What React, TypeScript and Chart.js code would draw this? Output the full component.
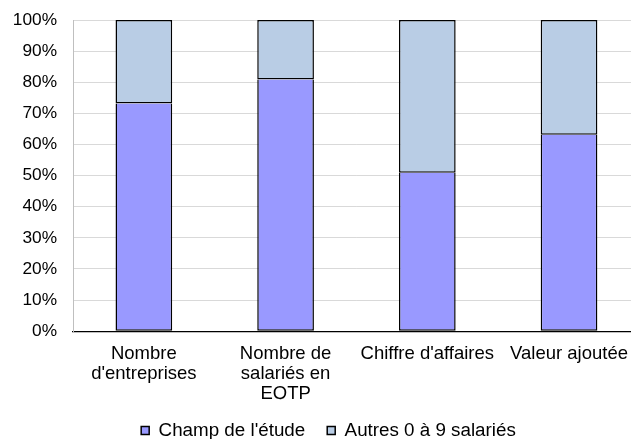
import React, { useEffect, useRef } from "react";
import { Chart, registerables } from "chart.js";

Chart.register(...registerables);

const categories: (string | string[])[] = [
  ["Nombre", "d'entreprises"],
  ["Nombre de", "salariés en", "EQTP"],
  "Chiffre d'affaires",
  "Valeur ajoutée",
];
const champEtude = [73.2, 80.9, 50.9, 63.1];
const autres = [26.8, 19.1, 49.1, 36.9];
const seriesNames = ["Champ de l'étude", "Autres 0 à 9 salariés"];
const yTicks = [0, 10, 20, 30, 40, 50, 60, 70, 80, 90, 100];

const FONT = "'Liberation Sans', Arial, sans-serif";
const W = 641;
const H = 450;

export default function App() {
  const ref = useRef<HTMLCanvasElement | null>(null);

  useEffect(() => {
    if (!ref.current) return;
    const legendShift = {
      id: "legendShift",
      afterLayout(chart: any) {
        if (chart.legend) {
          chart.legend.left += 8;
          chart.legend.right += 8;
        }
      },
    };
    const chart = new Chart(ref.current, {
      type: "bar",
      data: {
        labels: categories,
        datasets: [
          {
            label: seriesNames[0],
            data: champEtude,
            backgroundColor: "#9999FF",
            borderColor: "#000000",
            borderWidth: 1.5,
            borderSkipped: "top",
            barPercentage: 0.4,
            categoryPercentage: 1,
          },
          {
            label: seriesNames[1],
            data: autres,
            backgroundColor: "#B9CDE5",
            borderColor: "#000000",
            borderWidth: 1.5,
            borderSkipped: false,
            barPercentage: 0.4,
            categoryPercentage: 1,
          },
        ],
      },
      options: {
        animation: false,
        responsive: false,
        maintainAspectRatio: false,
        devicePixelRatio: 1,
        layout: { padding: { top: 20, left: 0, right: 0, bottom: 0 } },
        plugins: {
          tooltip: { enabled: false },
          legend: {
            position: "bottom",
            labels: {
              boxWidth: 8,
              boxHeight: 8,
              padding: 22,
              color: "#000",
              font: { family: FONT, size: 18.8 },
            },
          },
        },
        scales: {
          x: {
            stacked: true,
            grid: { display: false, drawTicks: false },
            border: { display: true, color: "#000", width: 1.2 },
            afterFit: (s: any) => {
              s.height = 68;
            },
            ticks: {
              autoSkip: false,
              maxRotation: 0,
              minRotation: 0,
              padding: 13,
              color: "#000",
              font: { family: FONT, size: 18.5, lineHeight: 1.08 },
            },
          },
          y: {
            stacked: true,
            min: 0,
            max: 100,
            afterFit: (s: any) => {
              s.width = 73;
            },
            afterBuildTicks: (s: any) => {
              s.ticks = yTicks.map((v) => ({ value: v }));
            },
            grid: {
              color: "#d9d9d9",
              lineWidth: 1,
              drawTicks: true,
              tickLength: 16,
              tickColor: "rgba(0,0,0,0)",
            },
            border: { display: true, color: "#bfbfbf", width: 1 },
            ticks: {
              padding: 0,
              color: "#000",
              font: { family: FONT, size: 17.3 },
              callback: (v: any) => v + "%",
            },
          },
        },
      },
      plugins: [legendShift],
    });
    return () => chart.destroy();
  }, []);

  return (
    <div
      style={{
        position: "fixed",
        left: 0,
        top: 0,
        width: 631,
        height: 439,
        overflow: "hidden",
        background: "#fff",
      }}
    >
      <canvas ref={ref} width={W} height={H} style={{ display: "block", width: W, height: H }} />
    </div>
  );
}
